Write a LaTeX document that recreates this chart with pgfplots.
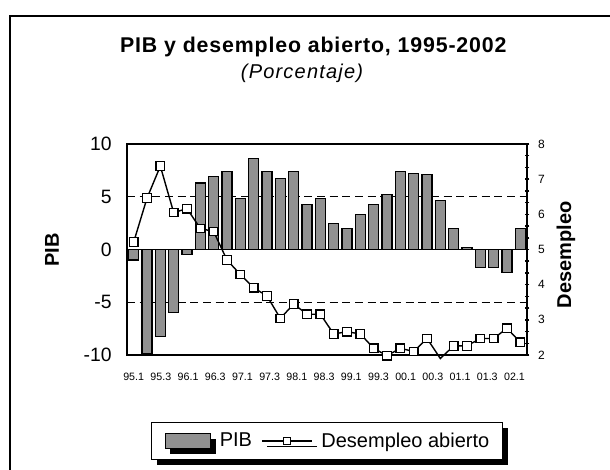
\documentclass[border=0pt]{standalone}
\usepackage{fontspec}
\setmainfont{Liberation Sans}
\newfontfamily\titlefont[LetterSpace=4]{Liberation Sans}
\newfontfamily\subfont[LetterSpace=6]{Liberation Sans}
\usepackage{pgfplots}
\pgfplotsset{compat=1.18}
\usetikzlibrary{shadows}
\definecolor{barfill}{gray}{0.57}
\pgfplotsset{
  linelegend/.style={legend image code/.code={\draw[black, line width=1pt] (0pt,0pt) -- (37.5pt,0pt); \node[draw=black, fill=white, line width=0.8pt, minimum size=5.5pt, inner sep=0pt] at (18.75pt,0pt) {};}},
  barlegend/.style={legend image code/.code={\draw[fill=barfill, draw=black, line width=0.6pt] (0pt,-5.5pt) rectangle (34pt,5.5pt);}},
}

\begin{document}
\begin{tikzpicture}
\useasboundingbox (0,0) rectangle (457.5pt,352.5pt);
\draw[line width=1.1pt] (7.5pt,-10pt) -- (7.5pt,340.5pt) -- (470pt,340.5pt);
\node[anchor=base, font=\titlefont\bfseries\fontsize{16}{18}\selectfont] at (235pt,312.75pt) {PIB y desempleo abierto, 1995-2002};
\node[anchor=base, font=\subfont\itshape\fontsize{15}{17}\selectfont] at (226.5pt,293.8pt) {(Porcentaje)};
\node[rotate=90, font=\bfseries\fontsize{15}{18}\selectfont] at (39pt,165pt) {PIB};
\node[rotate=90, font=\bfseries\fontsize{15}{18}\selectfont] at (424.5pt,161.25pt) {Desempleo};

\begin{axis}[
  at={(95.25pt,86.25pt)}, anchor=south west,
  width=300pt, height=158.25pt, scale only axis,
  xmin=0.5, xmax=30.5, ymin=-10, ymax=10,
  axis line style={line width=1.1pt},
  xtick={1,3.04,5.08,7.12,9.16,11.2,13.24,15.28,17.32,19.36,21.4,23.44,25.48,27.52,29.56},
  xticklabels={95.1,95.3,96.1,96.3,97.1,97.3,98.1,98.3,99.1,99.3,00.1,00.3,01.1,01.3,02.1},
  ytick={-10,-5,0,5,10}, yticklabels={-10,-5,0,5,10},
  major tick length=0pt,
  xticklabel style={font=\fontsize{8}{9}\selectfont, yshift=-10pt},
  yticklabel style={font=\fontsize{14.5}{16}\selectfont, xshift=-8pt},
  ymajorgrids,
  major grid style={black, line width=0.75pt, dash pattern=on 6pt off 3.5pt},
  extra y ticks={0}, extra y tick labels={},
  extra y tick style={major grid style={solid, black, line width=0.9pt}},
]
\addplot[ybar, bar width=0.75, fill=barfill, draw=black, line width=0.9pt] table[row sep=\\] {
x y \\
1 -1.0 \\
2 -9.9 \\
3 -8.25 \\
4 -6.0 \\
5 -0.5 \\
6 6.3 \\
7 6.9 \\
8 7.4 \\
9 4.8 \\
10 8.6 \\
11 7.4 \\
12 6.7 \\
13 7.4 \\
14 4.3 \\
15 4.8 \\
16 2.5 \\
17 2.0 \\
18 3.3 \\
19 4.3 \\
20 5.2 \\
21 7.4 \\
22 7.2 \\
23 7.1 \\
24 4.65 \\
25 2.0 \\
26 0.2 \\
27 -1.7 \\
28 -1.7 \\
29 -2.2 \\
30 2.0 \\
};
\end{axis}

\begin{axis}[
  at={(95.25pt,86.25pt)}, anchor=south west,
  width=300pt, height=158.25pt, scale only axis,
  xmin=0.5, xmax=30.5, ymin=2, ymax=8,
  axis x line=none, axis y line*=right,
  axis line style={line width=1.1pt, -},
  ytick={2,...,8}, yticklabels={2,3,4,5,6,7,8},
  minor y tick num=2,
  tick align=center, major tick length=3.5pt, minor tick length=3.5pt,
  tick style={black, line width=1.1pt},
  yticklabel style={font=\fontsize{9}{10}\selectfont, xshift=3pt},
  clip=false,
  legend columns=2,
  legend style={at={(0.5,-0.408)}, anchor=center, draw=black, line width=0.75pt, fill=white,
    font=\fontsize{15}{18}\selectfont, inner xsep=10pt, inner ysep=8pt,
    nodes={inner sep=0pt},
    drop shadow={shadow xshift=4pt, shadow yshift=-4pt, fill=black, opacity=1},
    /tikz/every even column/.append style={column sep=6.75pt},
    /tikz/every odd column/.append style={column sep=6.75pt}},
]
\addlegendimage{barlegend}
\addlegendentry{PIB}
\addlegendimage{linelegend}
\addlegendentry{Desempleo abierto}
\addplot[black, line width=1.05pt, no markers, forget plot] table[row sep=\\] {
x y \\
1 5.21 \\
2 6.46 \\
3 7.37 \\
4 6.05 \\
5 6.16 \\
6 5.60 \\
7 5.51 \\
8 4.70 \\
9 4.29 \\
10 3.91 \\
11 3.68 \\
12 3.04 \\
13 3.45 \\
14 3.16 \\
15 3.16 \\
16 2.60 \\
17 2.66 \\
18 2.60 \\
19 2.19 \\
20 1.98 \\
21 2.19 \\
22 2.10 \\
23 2.47 \\
24 1.90 \\
25 2.26 \\
26 2.26 \\
27 2.47 \\
28 2.47 \\
29 2.76 \\
30 2.36 \\
};
\addplot[only marks, mark=square*, mark size=3.2pt,
  mark options={draw=black, fill=white, line width=0.9pt, solid}, forget plot] table[row sep=\\] {
x y \\
1 5.21 \\
2 6.46 \\
3 7.37 \\
4 6.05 \\
5 6.16 \\
6 5.60 \\
7 5.51 \\
8 4.70 \\
9 4.29 \\
10 3.91 \\
11 3.68 \\
12 3.04 \\
13 3.45 \\
14 3.16 \\
15 3.16 \\
16 2.60 \\
17 2.66 \\
18 2.60 \\
19 2.19 \\
20 1.98 \\
21 2.19 \\
22 2.10 \\
23 2.47 \\
25 2.26 \\
26 2.26 \\
27 2.47 \\
28 2.47 \\
29 2.76 \\
30 2.36 \\
};
\end{axis}
\end{tikzpicture}
\end{document}
